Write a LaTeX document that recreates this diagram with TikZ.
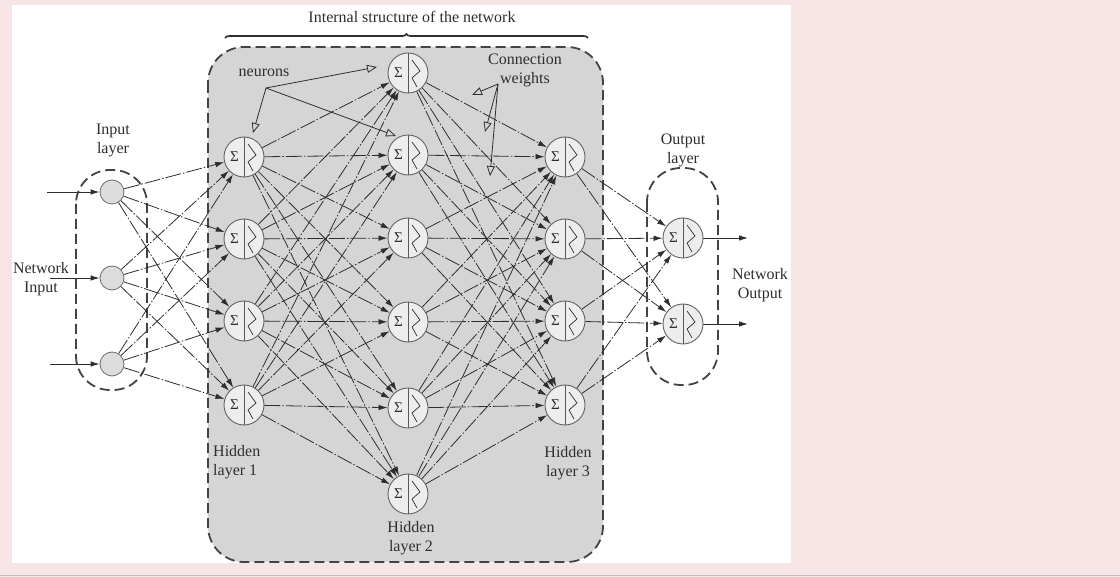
\documentclass[tikz,border=0pt]{standalone}
\usepackage{fontspec}
\setmainfont{Liberation Serif}
\usetikzlibrary{arrows.meta,decorations.pathreplacing}

\definecolor{pagepink}{HTML}{F7E4E5}
\definecolor{panelgrey}{HTML}{D5D5D5}
\definecolor{cellfill}{HTML}{EDEDED}
\definecolor{infill}{HTML}{DCDCDC}
\definecolor{ink}{HTML}{2E2E2E}

\pgfdeclarelayer{under}
\pgfsetlayers{under,main}

\tikzset{
  neuron/.style={circle, draw=ink!75, fill=cellfill, line width=0.9pt,
    minimum size=40pt, inner sep=0pt},
  innode/.style={circle, draw=ink!70, fill=infill, line width=0.8pt,
    minimum size=24pt, inner sep=0pt},
  sigma/.style={text=ink, font=\fontsize{15}{15}\selectfont, inner sep=0pt},
  link/.style={draw=ink, line width=0.8pt,
    dash pattern=on 16pt off 2pt on 1.5pt off 2pt,
    -{Latex[length=9pt,width=5.5pt]}},
  feed/.style={draw=ink, line width=0.9pt, -{Latex[length=9pt,width=5.5pt]}},
  pointer/.style={draw=ink, line width=0.8pt,
    -{Triangle[open,length=10pt,width=8pt]}},
  layerbox/.style={draw=ink!90, line width=1.8pt, dash pattern=on 10pt off 5pt},
  lbl/.style={text=ink, font=\fontsize{16}{19}\selectfont, align=center, inner sep=0pt},
}

\begin{document}
\begin{tikzpicture}[x=1pt, y=-1pt]
\useasboundingbox (0,0) rectangle (1120,577);

% ---------- neurons ----------
\foreach \y [count=\i] in {192,278,364}
  \node[innode] (in\i) at (112,\y) {};
\foreach \y [count=\i] in {157,239,321,405}
  \node[neuron] (ha\i) at (244,\y) {};
\foreach \y [count=\i] in {73,155,238,322,408,494}
  \node[neuron] (hb\i) at (408,\y) {};
\foreach \y [count=\i] in {157,239,321,405}
  \node[neuron] (hc\i) at (565,\y) {};
\foreach \y [count=\i] in {238,324}
  \node[neuron] (out\i) at (683,\y) {};

% summation and activation halves of every neuron
\foreach \n in {ha1,ha2,ha3,ha4,hb1,hb2,hb3,hb4,hb5,hb6,hc1,hc2,hc3,hc4,out1,out2} {
  \draw[ink!80, line width=0.9pt] (\n.north) -- (\n.south);
  \node[sigma] (\n-s) at ([xshift=-9.5pt]\n.center) {Σ};
  \draw[ink, line width=0.7pt, line join=round]
    ([shift={(4pt,13pt)}]\n.center) -- ([shift={(12pt,2pt)}]\n.center)
    -- ([shift={(4pt,-5pt)}]\n.center) -- ([shift={(9pt,-14pt)}]\n.center);
}

% ---------- free ends ----------
\coordinate (src1) at (47,192);
\coordinate (src2) at (50,278);
\coordinate (src3) at (50,364);
\coordinate (dst1) at (748,238);
\coordinate (dst2) at (748,324);
\coordinate (nrnroot) at (266,88);
\coordinate (nrntipA) at (377,67);
\coordinate (nrntipB) at (253,133);
\coordinate (nrntipC) at (396,136);
\coordinate (wroot) at (498,84);
\coordinate (wtipA) at (472,95);
\coordinate (wtipB) at (485,132);
\coordinate (wtipC) at (490,176);
\coordinate (braceL) at (225,38);
\coordinate (braceR) at (588,38);

% ---------- labels ----------
\node[lbl] (title) at (412,17) {Internal structure of the network};
\node[lbl] (inlbl) at (113,140) {Input\\layer};
\node[lbl] (outlbl) at (683,150) {Output\\layer};
\node[lbl] (netin) at (41,279) {Network\\Input};
\node[lbl] (netout) at (760,285) {Network\\Output};
\node[lbl, align=left, anchor=west] (lblh1) at (213,462) {Hidden\\layer 1};
\node[lbl] (lblh2) at (411,538) {Hidden\\layer 2};
\node[lbl] (lblh3) at (568,463) {Hidden\\layer 3};
\node[lbl, fill=panelgrey] (nrnlbl) at (264,73) {neurons};
\node[lbl] (wlbl) at (525,70) {Connection\\weights};

% ---------- backdrop, groups and connections ----------
\begin{pgfonlayer}{under}
  \fill[pagepink] (0,0) rectangle (1120,577);
  \draw[black!25, line width=1.5pt] (0,575.5) -- (1120,575.5);
  \fill[white] (12,5) rectangle (791,563);

  \draw[layerbox, fill=panelgrey, rounded corners=36pt] (208,47) rectangle (603,562);
  \draw[layerbox, rounded corners=34pt] (76,170) rectangle (147,390);
  \draw[layerbox, rounded corners=34pt] (647,168) rectangle (718,385);

  \draw[ink, line width=1.6pt, decorate,
        decoration={brace, amplitude=4pt}] (braceL) -- (braceR);

  \foreach \a in {1,...,3} \foreach \b in {1,...,4}
    \draw[link] (in\a) -- (ha\b);
  \foreach \a in {1,...,4} \foreach \b in {1,...,6}
    \draw[link] (ha\a) -- (hb\b);
  \foreach \a in {1,...,6} \foreach \b in {1,...,4}
    \draw[link] (hb\a) -- (hc\b);
  \foreach \a in {1,...,4} \foreach \b in {1,2}
    \draw[link] (hc\a) -- (out\b);

  \foreach \i in {1,2,3}
    \draw[feed] (src\i) -- (in\i);
  \draw[feed] (out1) -- (dst1);
  \draw[feed] (out2) -- (dst2);

  \draw[pointer] (nrnroot) -- (nrntipA);
  \draw[pointer] (nrnroot) -- (nrntipB);
  \draw[pointer] (nrnroot) -- (nrntipC);
  \draw[pointer] (wroot) -- (wtipA);
  \draw[pointer] (wroot) -- (wtipB);
  \draw[pointer] (wroot) -- (wtipC);
\end{pgfonlayer}
\end{tikzpicture}
\end{document}
